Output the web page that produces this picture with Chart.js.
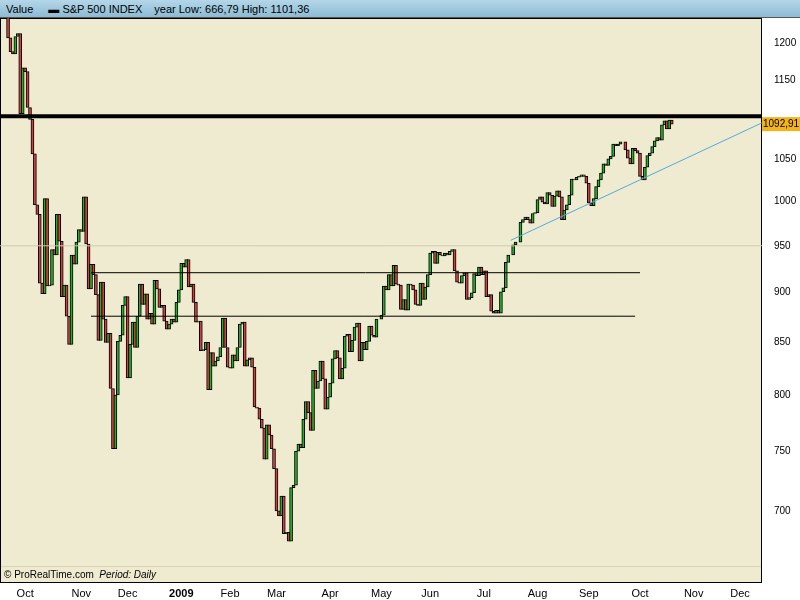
<!DOCTYPE html>
<html><head><meta charset="utf-8">
<script src="https://cdn.jsdelivr.net/npm/chart.js@4/dist/chart.umd.min.js"></script>
<style>
body{margin:0;width:800px;height:600px;background:#fff;font-family:"Liberation Sans",Arial,sans-serif;position:relative;overflow:hidden}
#head{position:absolute;left:0;top:0;width:800px;height:18px;background:linear-gradient(#b4d6e8,#8dbcd4);font-size:11px;line-height:18px;color:#000;border-bottom:1px solid #555;box-sizing:border-box;z-index:2}
#head span{margin-left:6px}
#wrap{position:absolute;left:0;top:8px;width:800px;height:592px}
#foot{position:absolute;left:4px;top:569px;font-size:10px;color:#000}
#sep{position:absolute;left:1px;top:566px;width:760px;height:1px;background:#d8d2b0}
</style></head><body>
<div id="head"><span>Value</span><span style="margin-left:15px">&#9644; S&amp;P 500 INDEX</span><span style="margin-left:12px">year Low: 666,79 High: 1101,36</span></div>
<div id="wrap"><canvas id="c" width="800" height="592"></canvas></div>
<div id="sep"></div>
<div id="foot">&#169; ProRealTime.com &nbsp;<i>Period: Daily</i></div>
<script>
// daily closes from 22 Sep 2008 to 20 Oct 2009
const closes = [
 1207,1188,1185,1209,1213,1106,1166,
 1161,1114,1099,1056,996,985,910,899,1003,907,908,946,940,985,955,896,908,876,848,940,930,954,968,
 966,1005,952,904,930,919,898,852,911,873,850,859,806,752,800,851,857,887,896,
 816,848,870,845,876,909,888,899,873,879,868,913,904,885,887,871,863,868,873,870,890,903,
 931,927,935,906,909,890,870,871,842,843,850,805,840,827,832,836,845,874,845,826,
 825,838,832,845,868,870,827,833,835,826,789,788,778,770,743,773,764,752,735,
 700,696,712,682,683,676,719,721,750,756,753,778,794,784,768,823,806,813,832,815,787,798,
 811,834,842,835,815,825,856,858,841,852,865,869,832,850,843,851,866,857,855,873,873,
 877,907,903,919,907,929,909,908,883,893,882,909,908,903,888,887,910,893,906,919,
 942,944,931,943,940,939,942,940,944,946,923,911,910,918,921,893,895,900,920,918,927,919,
 923,896,898,881,879,882,879,901,905,932,940,940,951,954,954,976,979,982,979,975,986,987,
 1002,1005,999,997,1010,1007,994,1006,1012,1005,979,990,996,1007,1026,1025,1028,1029,1031,1029,1021,
 998,995,1003,1017,1025,1033,1044,1042,1050,1053,1068,1066,1068,1071,1071,1061,1051,1044,1063,1060,1057,
 1029,1025,1040,1054,1057,1065,1072,1076,1073,1092,1097,1087,1098,1092.91
];
const firstOpen = 1255;
const monthLabels = ['Oct','Nov','Dec','2009','Feb','Mar','Apr','May','Jun','Jul','Aug','Sep','Oct','Nov','Dec'];
const monthStarts = [7,30,49,71,91,110,132,153,173,195,217,238,259,281,300];
const priceTicks = [700,750,800,850,900,950,1000,1050,1150,1200];
const resistance = [{x:-4,y:1103},{x:310,y:1103}];
const upperRange = [{x:34,y:921},{x:259,y:921}];
const lowerRange = [{x:34,y:876},{x:257,y:876}];
const midLevel = [{x:-4,y:950},{x:310,y:950}];
const trendLine = [{x:206,y:956},{x:310,y:1096}];

const bodies = closes.map((c,i)=>({x:i,y:[i?closes[i-1]:firstOpen,c]}));
const colors = bodies.map(b=>b.y[1]>=b.y[0]?'#22b022':'#d04040');

const bg = {id:'bg',beforeDraw(ch){const a=ch.chartArea,x=ch.ctx;x.save();x.fillStyle='#efebd0';x.fillRect(a.left,a.top,a.right-a.left,a.bottom-a.top);x.strokeStyle='#000';x.lineWidth=1;x.strokeRect(a.left+0.5,a.top+0.5,a.right-a.left-1,a.bottom-a.top);x.restore();}};
const last = {id:'last',afterDraw(ch){const x=ch.ctx,a=ch.chartArea;const v=closes[closes.length-1];const y=ch.scales.y.getPixelForValue(v);x.save();x.fillStyle='#f2b418';x.fillRect(a.right,y-7,38,14);x.fillStyle='#000';x.font='10px "Liberation Sans"';x.textBaseline='middle';x.fillText(String(v).replace('.',','),a.right+1,y);x.restore();}};
const line=(d,c,w)=>({type:'line',data:d,borderColor:c,borderWidth:w,pointRadius:0,fill:false,clip:true});

new Chart(document.getElementById('c'),{
 type:'bar',
 data:{datasets:[
  line(midLevel,'#cfcab0',1),
  line(upperRange,'#000',1),
  line(lowerRange,'#000',1),
  line(trendLine,'#55aadd',1),
  line(resistance,'#000',4),
  {data:bodies,backgroundColor:colors,borderColor:'#000',borderWidth:1,borderSkipped:false,barThickness:3}
 ]},
 options:{responsive:false,animation:false,layout:{padding:{left:0,right:0,top:0,bottom:0}},
  plugins:{legend:{display:false},tooltip:{enabled:false}},
  scales:{
   x:{type:'linear',offset:false,min:-3.3,max:309,grid:{display:false,drawTicks:true,tickLength:4},border:{display:false},
      afterBuildTicks(s){s.ticks=monthStarts.map(v=>({value:v}));},
      afterFit(s){s.height=18;},
      ticks:{autoSkip:false,maxRotation:0,padding:1,color:'#000',
        font:c=>({family:'Liberation Sans',size:11,weight:monthLabels[c.index]==='2009'?'bold':'normal'}),
        callback:(v,i)=>monthLabels[i]}},
   y:{type:'logarithmic',position:'right',min:645,max:1235,grid:{display:false},border:{display:false},
      afterBuildTicks(s){s.ticks=priceTicks.map(v=>({value:v}));},
      afterFit(s){s.width=38;},
      ticks:{color:'#000',padding:4,font:{family:'Liberation Sans',size:10},callback:v=>v}}
  }},
 plugins:[bg,last]
});
</script></body></html>
